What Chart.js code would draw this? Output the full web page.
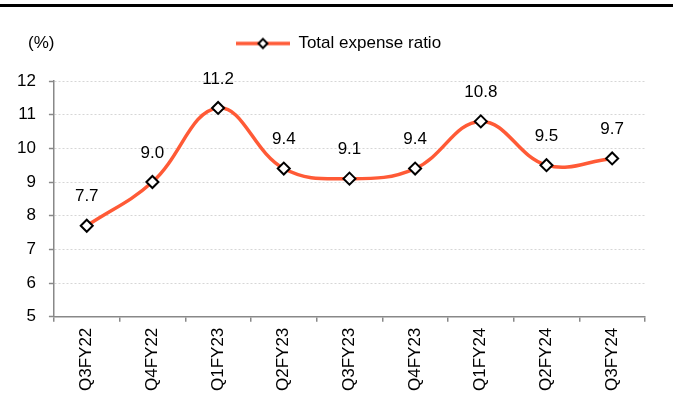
<!DOCTYPE html>
<html>
<head>
<meta charset="utf-8">
<script src="https://cdn.jsdelivr.net/npm/chart.js@4/dist/chart.umd.min.js"></script>
<style>
  html, body { margin: 0; padding: 0; background: #fff; }
  #wrap { position: relative; width: 673px; height: 399px; }
  #topline { position: absolute; left: 0; top: 4px; width: 673px; height: 3px; background: #000; }
  canvas { position: absolute; left: 0; top: 0; }
</style>
</head>
<body>
<div id="wrap">
  <canvas id="c" width="673" height="399"></canvas>
  <div id="topline"></div>
</div>
<script>
const categories = ['Q3FY22','Q4FY22','Q1FY23','Q2FY23','Q3FY23','Q4FY23','Q1FY24','Q2FY24','Q3FY24'];
const totalExpenseRatio = [7.7, 9.0, 11.2, 9.4, 9.1, 9.4, 10.8, 9.5, 9.7];
const seriesName = 'Total expense ratio';
const unitLabel = '(%)';
const yMin = 5, yMax = 12, yStep = 1;

const FONT = '"Liberation Sans", Arial, sans-serif';
const LINE_COLOR = '#FF5A36';

// legend symbol: line with diamond
const sym = document.createElement('canvas');
sym.width = 54; sym.height = 14;
(function(){
  const g = sym.getContext('2d');
  g.strokeStyle = LINE_COLOR; g.lineWidth = 3.5;
  g.beginPath(); g.moveTo(0, 7); g.lineTo(54, 7); g.stroke();
  g.fillStyle = '#fff'; g.strokeStyle = '#000'; g.lineWidth = 2;
  g.beginPath(); g.moveTo(27, 2.5); g.lineTo(31.5, 7); g.lineTo(27, 11.5); g.lineTo(22.5, 7); g.closePath();
  g.fill(); g.stroke();
})();

const extras = {
  id: 'extras',
  beforeLayout(chart) {
    const lg = chart.legend;
    if (lg && !lg._patched) {
      const f = lg.fit;
      lg.fit = function() { f.call(this); this.height += 19; };
      const d = lg.draw;
      lg.draw = function() { this.ctx.save(); this.ctx.translate(14, 0); d.call(this); this.ctx.restore(); };
      lg._patched = true;
    }
  },
  afterDatasetsDraw(chart) {
    const ctx = chart.ctx;
    const meta = chart.getDatasetMeta(0);
    ctx.save();
    ctx.font = '17px ' + FONT;
    ctx.fillStyle = '#000';
    ctx.textAlign = 'center';
    ctx.textBaseline = 'middle';
    meta.data.forEach((pt, i) => {
      ctx.fillText(totalExpenseRatio[i].toFixed(1), pt.x, pt.y - 29);
    });
    ctx.textAlign = 'left';
    ctx.fillText(unitLabel, 28, 43);
    ctx.restore();
  }
};

new Chart(document.getElementById('c'), {
  type: 'line',
  data: {
    labels: categories,
    datasets: [{
      label: seriesName,
      data: totalExpenseRatio,
      borderColor: LINE_COLOR,
      borderWidth: 3.5,
      tension: 0.4,
      pointStyle: 'rectRot',
      pointRadius: 6,
      pointBorderWidth: 2,
      pointBorderColor: '#000',
      pointBackgroundColor: '#fff',
      clip: false
    }]
  },
  options: {
    responsive: false,
    animation: false,
    devicePixelRatio: 1,
    layout: { padding: { top: 25, left: 4, right: 28, bottom: 2 } },
    plugins: {
      legend: {
        display: true,
        position: 'top',
        labels: {
          usePointStyle: true,
          pointStyleWidth: 54,
          padding: 10,
          color: '#000',
          font: { family: FONT, size: 17 },
          generateLabels(chart) {
            return [{ text: seriesName, pointStyle: sym, fillStyle: '#fff', strokeStyle: '#000', lineWidth: 0, hidden: false, datasetIndex: 0 }];
          }
        }
      },
      tooltip: { enabled: false }
    },
    scales: {
      x: {
        offset: true,
        grid: { offset: true, drawOnChartArea: false, drawTicks: true, tickLength: 5, color: '#888', lineWidth: 1.5 },
        border: { color: '#888', width: 1.5 },
        ticks: { autoSkip: false, minRotation: 90, maxRotation: 90, padding: 6, color: '#000', font: { family: FONT, size: 17 } }
      },
      y: {
        min: yMin, max: yMax,
        grid: { color: '#d6d6d6', lineWidth: 1, tickColor: '#888', tickLength: 5, tickWidth: 1.5, tickBorderDash: [] },
        border: { color: '#888', width: 1.5, dash: [2, 2] },
        ticks: { stepSize: yStep, padding: 13, color: '#000', font: { family: FONT, size: 17 } }
      }
    }
  },
  plugins: [extras]
});
</script>
</body>
</html>
